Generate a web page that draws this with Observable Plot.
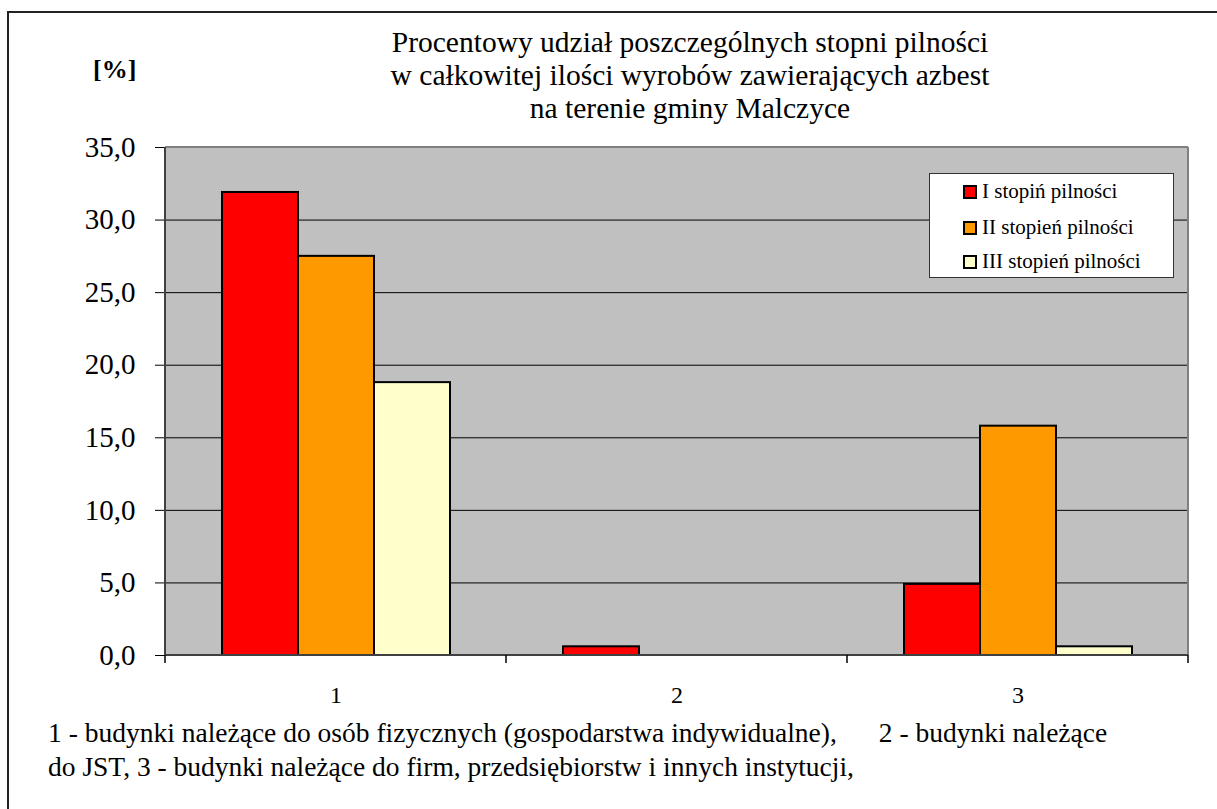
<!DOCTYPE html>
<html>
<head>
<meta charset="utf-8">
<script src="https://cdn.jsdelivr.net/npm/d3@7"></script>
<script src="https://cdn.jsdelivr.net/npm/@observablehq/plot@0.6"></script>
<style>
  html, body { margin: 0; padding: 0; background: #fff; overflow: hidden; }
  body { width: 1217px; height: 809px; position: relative; font-family: "Liberation Serif", "Times New Roman", serif; color: #000; }
  #frame { position: absolute; left: 7px; top: 11px; width: 1230px; height: 820px; border-left: 2px solid #222; border-top: 2px solid #222; }
  #title { position: absolute; left: 290px; width: 800px; top: 26px; text-align: center; font-size: 29.5px; line-height: 33px; }
  #unit { position: absolute; left: 93px; top: 55px; font-size: 26px; line-height: 30px; font-weight: bold; }
  #chart { position: absolute; left: 0; top: 120px; }
  #caption { position: absolute; left: 48px; top: 716px; font-size: 27.5px; line-height: 34px; white-space: pre; }
  #caption .line { position: relative; height: 34px; }
  #caption .part2 { margin-left: 42px; }
  #legend { position: absolute; left: 929px; top: 173px; width: 243px; height: 103px; background: #fff; border: 1px solid #333; }
  .item { position: absolute; left: 33px; display: flex; align-items: center; font-size: 21px; line-height: 21px; }
  .sw { width: 10px; height: 10px; border: 2px solid #000; margin-right: 5px; }
</style>
</head>
<body>
<div id="frame"></div>
<div id="title"></div>
<div id="unit">[%]</div>
<div id="chart"></div>
<div id="legend"></div>
<div id="caption"></div>
<script>
const categories = ["1", "2", "3"];
const seriesNames = ["I stopiń pilności", "II stopień pilności", "III stopień pilności"];
const seriesColors = ["#FF0000", "#FF9900", "#FFFFCC"];
const valuesI = [31.9, 0.6, 4.9];
const valuesII = [27.5, 0.0, 15.8];
const valuesIII = [18.8, 0.0, 0.6];
const yTicks = [0, 5, 10, 15, 20, 25, 30, 35];
const titleLines = [
  "Procentowy udział poszczególnych stopni pilności",
  "w całkowitej ilości wyrobów zawierających azbest",
  "na terenie gminy Malczyce"
];
const captionLine1 = ["1 - budynki należące do osób fizycznych (gospodarstwa indywidualne),", "2 - budynki należące"];
const captionLine2 = "do JST, 3 - budynki należące do firm, przedsiębiorstw i innych instytucji,";

(function () {
const allValues = [valuesI, valuesII, valuesIII];
const data = [];
categories.forEach((c, i) => {
  seriesNames.forEach((s, j) => {
    data.push({cat: c, series: s, value: allValues[j][i]});
  });
});

document.getElementById("title").innerHTML = titleLines.join("<br>");

const cap = document.getElementById("caption");
const l1 = document.createElement("div"); l1.className = "line";
const p1 = document.createElement("span"); p1.textContent = captionLine1[0];
const p2 = document.createElement("span"); p2.className = "part2"; p2.textContent = captionLine1[1];
l1.appendChild(p1); l1.appendChild(p2);
const l2 = document.createElement("div"); l2.className = "line"; l2.textContent = captionLine2;
cap.appendChild(l1); cap.appendChild(l2);

const legend = document.getElementById("legend");
const rowTops = [7, 43, 77];
seriesNames.forEach((s, j) => {
  const it = document.createElement("div");
  it.className = "item";
  it.style.top = rowTops[j] + "px";
  const sw = document.createElement("div");
  sw.className = "sw";
  sw.style.background = seriesColors[j];
  const tx = document.createElement("span");
  tx.textContent = s;
  it.appendChild(sw); it.appendChild(tx);
  legend.appendChild(it);
});

const fmt = d => d.toFixed(1).replace(".", ",");

const chart = Plot.plot({
  width: 1217,
  height: 600,
  marginLeft: 165,
  marginRight: 29,
  marginTop: 27,
  marginBottom: 65,
  style: {fontFamily: "'Liberation Serif', 'Times New Roman', serif", background: "transparent", color: "#000"},
  fx: {domain: categories, padding: 0, axis: null, label: null},
  x: {domain: seriesNames, paddingInner: 0, paddingOuter: 0.735, axis: null},
  y: {domain: [0, 35], axis: null},
  color: {domain: seriesNames, range: seriesColors},
  marks: [
    Plot.gridY(yTicks, {stroke: "#000", strokeOpacity: 1, strokeWidth: 1}),
    Plot.barY(data.filter(d => d.value > 0), {fx: "cat", x: "series", y: "value", fill: "series", stroke: "#000", strokeWidth: 2}),
    Plot.axisY(yTicks, {tickFormat: fmt, tickSize: 10, tickPadding: 20, fontSize: 29, stroke: "#000", label: null}),
    Plot.axisFx({anchor: "bottom", tickSize: 0, tickPadding: 30, fontSize: 24, label: null})
  ]
});
document.getElementById("chart").appendChild(chart);

const fx = chart.scale("fx");
const ys = chart.scale("y");
const svg = d3.select(chart);
const xl = fx.apply(categories[0]);
const xr = fx.apply(categories[categories.length - 1]) + fx.bandwidth;
const yt = ys.apply(35), yb = ys.apply(0);
svg.insert("rect", ":first-child").attr("x", xl).attr("y", yt).attr("width", xr - xl).attr("height", yb - yt).attr("fill", "#C0C0C0");
const g = svg.append("g");
g.append("line").attr("x1", xl).attr("x2", xr).attr("y1", yt).attr("y2", yt).attr("stroke", "#808080").attr("stroke-width", 2);
g.append("line").attr("x1", xr).attr("x2", xr).attr("y1", yt).attr("y2", yb).attr("stroke", "#808080").attr("stroke-width", 2);
g.append("line").attr("x1", xl).attr("x2", xl).attr("y1", yt).attr("y2", yb).attr("stroke", "#404040").attr("stroke-width", 2);
g.append("line").attr("x1", xl).attr("x2", xr).attr("y1", yb).attr("y2", yb).attr("stroke", "#404040").attr("stroke-width", 2);
const bounds = categories.map(c => fx.apply(c)).concat([xr]);
bounds.forEach(x => {
  g.append("line").attr("x1", x).attr("x2", x).attr("y1", yb).attr("y2", yb + 8).attr("stroke", "#000").attr("stroke-width", 1.5);
});
})();
</script>
</body>
</html>
